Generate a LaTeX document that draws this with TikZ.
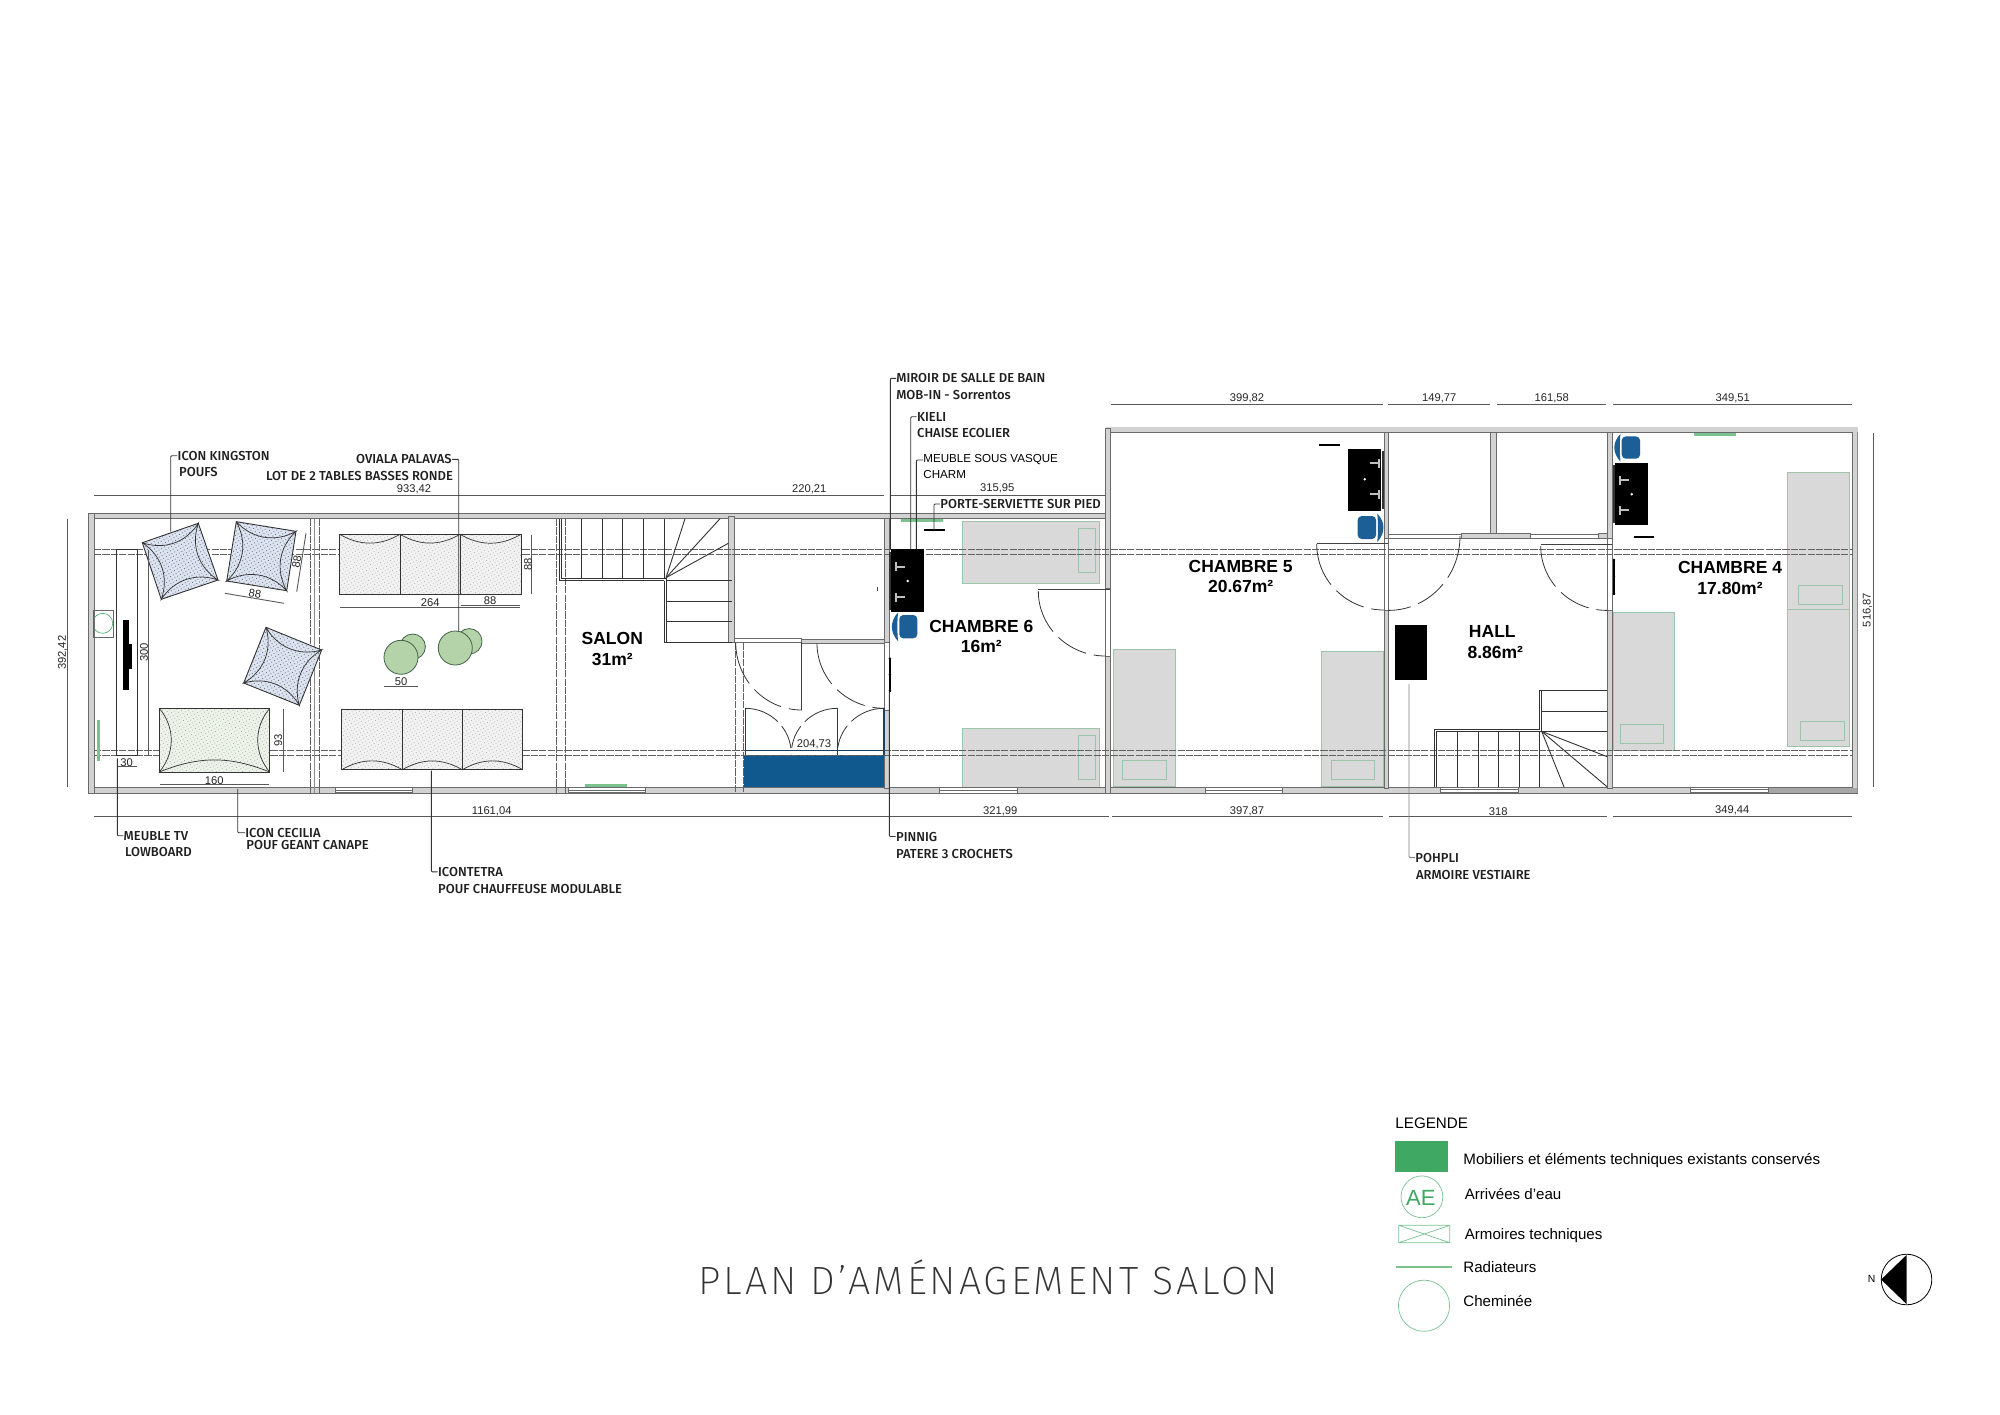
\documentclass[tikz,border=0pt]{standalone}
\usepackage{fontspec}
\usetikzlibrary{calc,patterns,patterns.meta}
\setmainfont{Liberation Sans}
\newfontfamily\din{Fira Sans Medium}
\newfontfamily\ttlfont{Fira Sans ExtraLight}[LetterSpace=7.5]
\definecolor{wallgrey}{HTML}{D2D2D2}
\definecolor{walledge}{HTML}{6A6A6A}
\definecolor{bedgrey}{HTML}{D9D9D9}
\definecolor{bedline}{HTML}{9CC4A6}
\definecolor{lgreen}{HTML}{3FA863}
\definecolor{radgreen}{HTML}{7CC28E}
\definecolor{navy}{HTML}{1F3F5F}
\definecolor{cupblue}{HTML}{10598F}
\definecolor{chairblue}{HTML}{1C5F97}
\definecolor{inkline}{HTML}{333333}
\definecolor{tablegreen}{HTML}{B4D3A8}
\definecolor{tableline}{HTML}{44604A}
\definecolor{poufblue}{HTML}{DDE4EF}
\definecolor{poufdot}{HTML}{5F7290}
\definecolor{cecilia}{HTML}{EDF3EA}
\definecolor{ceciliadot}{HTML}{8FA58A}
\definecolor{tetra}{HTML}{F2F2F2}
\definecolor{tetradot}{HTML}{A8A8A8}
\tikzset{
  wallfill/.style={fill=wallgrey,draw=walledge,line width=.3pt},
  thinwall/.style={fill=white,draw=walledge,line width=.35pt},
  ink/.style={draw=inkline,line width=.45pt},
  dimline/.style={draw=black!65,line width=.45pt},
  dashline/.style={draw=black!62,line width=.32pt,dash pattern=on 3.6pt off .6pt},
  dooredge/.style={draw=black!80,line width=.4pt,dash pattern=on 22pt off 4pt on 16pt off 4pt},
  bedbox/.style={fill=bedgrey,draw=bedline,line width=.45pt},
  pillow/.style={draw=bedline,line width=.45pt},
  lead/.style={draw=inkline,line width=.45pt,rounded corners=.5pt},
  dimtext/.style={font=\fontsize{5.6pt}{6pt}\selectfont,inner sep=0pt,text=black!85},
  din/.style={font=\din\fontsize{6.5pt}{7pt}\selectfont,inner sep=0pt,text=black!88},
  room/.style={font=\bfseries\fontsize{8.75pt}{10pt}\selectfont,inner sep=0pt},
  leg/.style={font=\fontsize{7.55pt}{8pt}\selectfont,inner sep=0pt,anchor=west},
  dotsblue/.style={pattern={Dots[distance=1.6pt,radius=.3pt,angle=30]},pattern color=poufdot},
  dotsgreen/.style={pattern={Dots[distance=1.6pt,radius=.25pt,angle=30]},pattern color=ceciliadot},
  dotsgrey/.style={pattern={Dots[distance=1.6pt,radius=.25pt,angle=30]},pattern color=tetradot},
}
\newcommand{\wallR}[4]{\path[wallfill] (#1,#2) rectangle (#3,#4);}
\newcommand{\winR}[4]{\path[thinwall] (#1,#2) rectangle (#3,#4);\draw[walledge,line width=.3pt] (#1,{(#2+#4)/2}) -- (#3,{(#2+#4)/2});}
\newcommand{\bedR}[4]{\path[bedbox] (#1,#2) rectangle (#3,#4);}
\newcommand{\pilR}[4]{\path[pillow] (#1,#2) rectangle (#3,#4);}
\newcommand{\qarc}[6]{\draw[dooredge] (#1,#2) .. controls ($(#1,#2)+.5523*(#3,#4)-.5523*(#5,#6)$) and ($(#3,#4)+.5523*(#1,#2)-.5523*(#5,#6)$) .. (#3,#4);}
\newcommand{\navyarc}[6]{\draw[draw=black!80,line width=.4pt,dash pattern=on 18pt off 3pt on 12pt off 3pt] (#1,#2) .. controls ($(#1,#2)+.5523*(#3,#4)-.5523*(#5,#6)$) and ($(#3,#4)+.5523*(#1,#2)-.5523*(#5,#6)$) .. (#3,#4);}
% pouf: four corners clockwise on screen
\newcommand{\pouf}[8]{%
  \path[fill=poufblue] (#1,#2) -- (#3,#4) -- (#5,#6) -- (#7,#8) -- cycle;
  \path[dotsblue] (#1,#2) -- (#3,#4) -- (#5,#6) -- (#7,#8) -- cycle;
  \draw[inkline,line width=.45pt] (#1,#2) -- (#3,#4) -- (#5,#6) -- (#7,#8) -- cycle;
  \draw[inkline,line width=.35pt] (#1,#2) to[bend right=38] (#3,#4) to[bend right=38] (#5,#6) to[bend right=38] (#7,#8) to[bend right=38] (#1,#2);
}
\newcommand{\chairL}[4]{% seat box, back on the left
  \fill[chairblue,rounded corners=2pt] (#1,#2) rectangle (#3,#4);
  \fill[chairblue] ($(#1,#2)+(-1.2,-2.5)$) .. controls ($(#1,#2)+(-9.5,6)$) and ($(#1,#4)+(-9.5,-6)$) .. ($(#1,#4)+(-1.2,3)$) .. controls ($(#1,#4)+(-2.2,-6)$) and ($(#1,#2)+(-2.2,6)$) .. cycle;
}
\newcommand{\chairRt}[4]{%
  \fill[chairblue,rounded corners=2pt] (#1,#2) rectangle (#3,#4);
  \fill[chairblue] ($(#3,#2)+(1.2,-2.5)$) .. controls ($(#3,#2)+(9.5,6)$) and ($(#3,#4)+(9.5,-6)$) .. ($(#3,#4)+(1.2,3)$) .. controls ($(#3,#4)+(2.2,-6)$) and ($(#3,#2)+(2.2,6)$) .. cycle;
}
\newcommand{\tapR}[2]{% tap with its body on the left, stem to the right
  \fill[black!25] ($(#1,#2)+(-5,-4.5)$) rectangle ($(#1,#2)+(-3,4.5)$);
  \fill[black!25] ($(#1,#2)+(-4,-1)$) rectangle ($(#1,#2)+(5,1)$);
}
\newcommand{\tapL}[2]{%
  \fill[black!25] ($(#1,#2)+(3,-4.5)$) rectangle ($(#1,#2)+(5,4.5)$);
  \fill[black!25] ($(#1,#2)+(-5,-1)$) rectangle ($(#1,#2)+(4,1)$);
}
\begin{document}
\begin{tikzpicture}[x=.5pt,y=-.5pt]
\useasboundingbox (0,0) rectangle (2000,1414);
\fill[white] (0,0) rectangle (2000,1414);

% ---------- beds (under the dashed lines)
\bedR{962.3}{521.3}{1099.7}{583}\pilR{1078.3}{528}{1095.7}{572.3}
\bedR{962.3}{728.3}{1099.7}{790}\pilR{1078.3}{735.3}{1095.7}{779.7}
\bedR{1113.3}{649.3}{1175.7}{786.7}\pilR{1122.3}{760.3}{1166}{779.3}
\bedR{1321.3}{651.3}{1383.3}{786.7}\pilR{1331.3}{760.3}{1374.7}{779.3}
\bedR{1787.3}{472.3}{1849.5}{609.5}\pilR{1798.3}{585.7}{1842.3}{604.3}
\bedR{1787.3}{609.5}{1849.5}{746.7}\pilR{1800.7}{721.7}{1844.3}{740.3}
\bedR{1613.3}{612.4}{1674.7}{750}\pilR{1620}{724}{1663.7}{743}

% ---------- cupboard blue
\fill[cupblue] (744,755) rectangle (885,787.3);

% ---------- walls
\wallR{88}{513}{1105.7}{518.7}
\wallR{88}{787.5}{1857.7}{793}
\wallR{88}{513}{94}{793}
\fill[wallgrey] (1105.7,427.3) rectangle (1857.7,432.7);
\draw[draw=walledge,line width=.35pt] (1110,432.7) -- (1852.7,432.7);
\draw[draw=walledge,line width=.3pt] (1105.7,428) -- (1110,428);
\path[fill=wallgrey] (1852.7,427.3) rectangle (1857.5,793);
\draw[draw=walledge,line width=.35pt] (1852.7,432.7) -- (1852.7,787.5);
\draw[draw=black!45,line width=.3pt] (1857.5,432) -- (1857.5,793);
\wallR{1105.7}{428}{1110}{588}
\wallR{1105.7}{656}{1110}{793}
\wallR{1384}{432.7}{1388.3}{538}
\wallR{1384}{610}{1388.3}{788}
\wallR{1490.7}{432.7}{1496.3}{533.7}
\wallR{1607.3}{432.7}{1612.3}{538}
\wallR{1607.3}{610}{1612.3}{788}
\wallR{884.3}{518.7}{889.3}{642}
\wallR{884.3}{710}{889.3}{788}
\wallR{728.3}{516.7}{734.3}{642.3}
\wallR{801.7}{639.5}{884.3}{643.3}
\wallR{1461}{533}{1530}{538}
\wallR{1598}{533.7}{1607.3}{538}
\path[thinwall] (1388.3,534) rectangle (1461,538);
\path[thinwall] (1530,534) rectangle (1598,538);
\path[thinwall] (734.3,638.3) rectangle (801.7,642.3);
\path[thinwall] (1105.7,588) rectangle (1110,656);
\path[thinwall] (1384,538) rectangle (1388.3,610);
\path[thinwall] (1607.3,538) rectangle (1612.3,610);
\path[thinwall] (884.3,642) rectangle (889.3,710);
\fill[black!35] (1768.3,788) rectangle (1857.3,792.6);
% windows
\winR{335}{787.7}{412.3}{792.7}
\winR{568.3}{787.7}{645.3}{792.7}
\winR{939.3}{787.3}{1017.3}{793}
\winR{1205}{787.3}{1282.3}{793}
\winR{1440.7}{787}{1518.3}{792.5}
\winR{1690.7}{787}{1768.3}{792.5}

% ---------- dashed overhead lines
\foreach \yy in {549.3,554.3,750,755.3}{
  \draw[dashline] (94,\yy) -- (1852.7,\yy);
}
% partitions in dashes
\foreach \xx in {310.7,319.3}{\draw[dashline] (\xx,519) -- (\xx,793);}
\draw[draw=black!45,line width=.4pt] (314.5,519) -- (314.5,793);
\foreach \xx in {556.7,565.5}{\draw[dashline] (\xx,519) -- (\xx,793);}
\foreach \xx in {735.7,743.7}{\draw[dashline] (\xx,642.3) -- (\xx,793);}

% ---------- stairs salon
\draw[ink] (559,518.7) -- (559,580.7) -- (664.3,580.7);
\draw[ink] (561.5,518.7) -- (561.5,578) -- (666.7,578);
\foreach \xx in {581.7,602.3,622.7,643.3,664.3}{\draw[ink] (\xx,518.7) -- (\xx,578);}
\draw[ink] (664.3,580.7) -- (664.3,642.3) -- (731.7,642.3);
\draw[ink] (666.7,578) -- (666.7,642.3);
\draw[ink] (666.7,580.7) -- (731.7,580.7);
\draw[ink] (666.7,601) -- (731.7,601);
\draw[ink] (666.7,621.7) -- (731.7,621.7);
\draw[ink] (666,577.7) -- (685,518.7);
\draw[ink] (666,577.7) -- (720,518.7);
\draw[ink] (666,577.7) -- (728.3,543.3);

% ---------- stairs hall
\draw[ink] (1434,787) -- (1434,729.6) -- (1539,729.6);
\draw[ink] (1436.7,787) -- (1436.7,731.4) -- (1541.7,731.4);
\foreach \xx in {1457.7,1478,1498.7,1519,1539.3}{\draw[ink] (\xx,731.4) -- (\xx,787);}
\draw[ink] (1539,729.6) -- (1539,690.5) -- (1607.3,690.5);
\draw[ink] (1541.7,690.5) -- (1541.7,731.4);
\draw[ink] (1541.7,711) -- (1607.3,711);
\draw[ink] (1541.7,731.4) -- (1607.3,731.4);
\draw[ink] (1541.7,731.4) -- (1607.3,756.7);
\draw[ink] (1541.7,731.4) -- (1607.3,787);
\draw[ink] (1541.7,731.4) -- (1564,787);

% ---------- doors
\draw[draw=black!75,line width=.5pt] (1038.3,589) -- (1110,589);
\qarc{1038.3}{591}{1105.7}{656}{1105.7}{591}
\draw[draw=black!75,line width=.5pt] (1316.7,543) -- (1388.3,543);
\qarc{1316.7}{544}{1384}{610}{1384}{544}
\qarc{1460}{536}{1388.3}{610.4}{1388.3}{536}
\draw[draw=black!75,line width=.5pt] (1540.7,544.5) -- (1612.3,544.5);
\qarc{1540.7}{546}{1607.3}{610.4}{1607.3}{546}
\draw[draw=black!75,line width=.45pt] (801.7,642.3) -- (801.7,710);
\qarc{735.7}{642.3}{801.7}{710}{801.7}{642.3}
\qarc{817}{643.3}{884.3}{708.3}{884.3}{643.3}
\fill[black!70] (876.5,587) rectangle (877.5,590.5);

% ---------- cupboard doors
\draw[navy,line width=.7pt] (745.3,708.3) -- (745.3,755);
\draw[navy,line width=.7pt] (837.3,708.3) -- (837.3,755);
\draw[navy,line width=.7pt] (884,708.3) -- (884,755);
\draw[navy,line width=.6pt] (744.5,750.7) -- (884.5,750.7);
\navyarc{745.3}{708.3}{791.3}{754}{745.3}{754}
\navyarc{837.3}{708.3}{791.3}{754}{837.3}{754}
\navyarc{884}{708.3}{837.3}{754}{884}{754}

% ---------- radiators
\draw[radgreen,line width=1.6pt] (901,520.3) -- (942.7,520.3);
\draw[radgreen,line width=1.6pt] (585,785.3) -- (626.7,785.3);
\draw[radgreen,line width=1.2pt] (1694,434.3) -- (1736,434.3);
\draw[radgreen,line width=1.6pt] (98.2,720) -- (98.2,760.7);

% ---------- salon furniture
\draw[ink] (116.7,549.7) rectangle (137.3,755.3);
\draw[draw=black!60,line width=.4pt] (93.3,610.3) rectangle (113.3,637.3);
\begin{scope}
\clip (94,605) rectangle (113,640);
\draw[draw=lgreen,line width=.3pt] (102.7,623.3) circle[radius=5pt];
\end{scope}
\fill[black] (122.7,620) rectangle (128.7,690);
\fill[black] (122.7,644) rectangle (132,668.7);

\pouf{142.3}{542.7}{198.3}{523.3}{218}{580}{161.3}{599.3}
\pouf{236.3}{521.7}{296}{531.3}{286.7}{590.7}{226.7}{581}
\pouf{266}{627.3}{321.7}{650}{299.3}{705.3}{243.7}{683}

% cecilia
\path[fill=cecilia] (159.3,708.3) rectangle (269.7,772);
\path[dotsgreen] (159.3,708.3) rectangle (269.7,772);
\draw[inkline,line width=.45pt] (159.3,708.3) rectangle (269.7,772);
\draw[inkline,line width=.35pt] (159.3,708.3) to[bend left=40] (159.3,772);
\draw[inkline,line width=.35pt] (269.7,708.3) to[bend right=40] (269.7,772);
\draw[inkline,line width=.35pt] (159.3,772) to[bend left=22] (269.7,772);

% icontetra top
\path[fill=tetra] (339.7,534.3) rectangle (521,594.7);
\path[dotsgrey] (339.7,534.3) rectangle (521,594.7);
\draw[inkline,line width=.45pt] (339.7,534.3) rectangle (521,594.7);
\draw[inkline,line width=.45pt] (400,534.3) -- (400,594.7) (460,534.3) -- (460,594.7);
\draw[inkline,line width=.35pt] (339.7,534.3) to[bend right=30] (400,534.3) to[bend right=30] (460,534.3) to[bend right=30] (521,534.3);
% icontetra bottom
\path[fill=tetra] (341.7,709.3) rectangle (522.7,769.7);
\path[dotsgrey] (341.7,709.3) rectangle (522.7,769.7);
\draw[inkline,line width=.45pt] (341.7,709.3) rectangle (522.7,769.7);
\draw[inkline,line width=.45pt] (402.3,709.3) -- (402.3,769.7) (462.3,709.3) -- (462.3,769.7);
\draw[inkline,line width=.35pt] (341.7,769.7) to[bend left=30] (402.3,769.7) to[bend left=30] (462.3,769.7) to[bend left=30] (522.7,769.7);

% tables
\draw[fill=tablegreen,draw=tableline,line width=.4pt] (412.7,646.7) circle[radius=6.35pt];
\draw[fill=tablegreen,draw=tableline,line width=.4pt] (401,657.3) circle[radius=8.5pt];
\draw[fill=tablegreen,draw=tableline,line width=.4pt] (469.3,641.3) circle[radius=6.35pt];
\draw[fill=tablegreen,draw=tableline,line width=.4pt] (455.3,648) circle[radius=8.5pt];

% ---------- bathroom furniture
\fill[black] (891,549.3) rectangle (924.3,611.7);
\fill[black!80] (888.7,551.5) rectangle (891,609.5);
\tapR{899.7}{566.7}\tapR{899.7}{597.3}
\fill[white] (907.7,581) circle[radius=.7pt];
\chairL{899.3}{615}{917.3}{638.3}
\draw[black,line width=1pt] (923.7,530) -- (944.7,530);

\fill[black] (1348,449) rectangle (1381,511);
\fill[black!80] (1381.7,451) rectangle (1383.8,509);
\tapL{1374.7}{463.3}\tapL{1374.7}{494.3}
\fill[white] (1364.7,479.3) circle[radius=.7pt];
\chairRt{1357.7}{516}{1376}{539}
\draw[black,line width=1pt] (1318.7,444.7) -- (1340,444.7);

\fill[black] (1615,462.8) rectangle (1648.3,525.3);
\fill[black!80] (1612.5,465) rectangle (1615,523);
\tapR{1623.7}{480.3}\tapR{1623.7}{510}
\fill[white] (1631.7,494.2) circle[radius=.7pt];
\chairL{1621.7}{436.4}{1640}{458.7}
\draw[black,line width=1pt] (1633.7,536.8) -- (1654.3,536.8);

% hall wardrobe
\fill[black] (1395.3,625) rectangle (1427.3,680.3);
% hooks
\foreach \xx/\ya/\yb in {889.9/657.7/691.7,1614/559/594.5}{
  \draw[black,line width=.6pt] (\xx,\ya) -- (\xx,\yb);
  \fill[black] (\xx,\ya+1) circle[radius=.7pt] (\xx,{(\ya+\yb)/2}) circle[radius=.7pt] (\xx,\yb-1) circle[radius=.7pt];
}

% ---------- dimension lines
\draw[dimline] (94.3,495) -- (733,495);
\draw[dimline] (733,495) -- (884,495);
\draw[dimline] (890,495) -- (1105.7,495);
\draw[dimline] (1110.7,404.3) -- (1383.3,404.3);
\draw[dimline] (1388.3,404.3) -- (1490,404.3);
\draw[dimline] (1497,404.3) -- (1606.3,404.3);
\draw[dimline] (1613,404.3) -- (1851.7,404.3);
\draw[dimline] (94.3,816.7) -- (1109,816.7);
\draw[dimline] (1111.7,816.7) -- (1383.3,816.7);
\draw[dimline] (1389.3,816.7) -- (1606.7,816.7);
\draw[dimline] (1613,816.7) -- (1851.7,816.7);
\draw[dimline] (67.3,519) -- (67.3,787.3);
\draw[dimline] (1873.3,433) -- (1873.3,786.7);
\draw[dimline] (148,549.7) -- (148,755.3);
\draw[dimline] (117.3,766.7) -- (136.7,766.7);
\draw[dimline] (283.3,709.3) -- (283.3,771.7);
\draw[dimline] (160,784.3) -- (269,784.3);
\draw[dimline] (225,593.3) -- (284,603.3);
\draw[dimline] (306,533.3) -- (296.7,591.7);
\draw[dimline] (340,607) -- (520,607);
\draw[dimline] (460.7,605) -- (520,605);
\draw[dimline] (531.7,535) -- (531.7,594);
\draw[dimline] (384.3,686) -- (417.7,686);

\node[dimtext] (d1) at (414,489) {933,42};
\node[dimtext] (d2) at (809.3,489) {220,21};
\node[dimtext] (d3) at (997.3,488.7) {315,95};
\node[dimtext] (d4) at (1247,398) {399,82};
\node[dimtext] (d5) at (1439.3,398) {149,77};
\node[dimtext] (d6) at (1551.7,398) {161,58};
\node[dimtext] (d7) at (1732.7,398) {349,51};
\node[dimtext] (d8) at (491.7,811) {1161,04};
\node[dimtext] (d9) at (1000.3,811) {321,99};
\node[dimtext] (d10) at (1247,811) {397,87};
\node[dimtext] (d11) at (1498.3,811.8) {318};
\node[dimtext] (d12) at (1732.3,810.4) {349,44};
\node[dimtext,rotate=90] (d13) at (62.7,652.7) {392,42};
\node[dimtext,rotate=90] (d14) at (1867.3,610) {516,87};
\node[dimtext] (d15) at (814,744.7) {204,73};
\node[dimtext,rotate=90] (d16) at (144,652.3) {300};
\node[dimtext] (d17) at (126.7,762.3) {30};
\node[dimtext,rotate=90] (d18) at (278.3,740) {93};
\node[dimtext] (d19) at (214.3,780.3) {160};
\node[dimtext,rotate=-9.5] (d20) at (255,593.7) {88};
\node[dimtext,rotate=80.5] (d21) at (296.7,561.7) {88};
\node[dimtext] (d22) at (430.3,603) {264};
\node[dimtext] (d23) at (490,601) {88};
\node[dimtext,rotate=90] (d24) at (528,564) {88};
\node[dimtext] (d25) at (401,681.7) {50};

% ---------- room names
\node[room] (r1) at (612.3,638.3) {SALON};
\node[room] (r1b) at (612.3,659.3) {31m²};
\node[room] (r2) at (981.3,626.3) {CHAMBRE 6};
\node[room] (r2b) at (981.3,646.3) {16m²};
\node[room] (r3) at (1240.7,566) {CHAMBRE 5};
\node[room] (r3b) at (1240.7,586.7) {20.67m²};
\node[room] (r4) at (1492.3,631.4) {HALL};
\node[room] (r4b) at (1495.3,652) {8.86m²};
\node[room] (r5) at (1730,567.6) {CHAMBRE 4};
\node[room] (r5b) at (1730,588) {17.80m²};

% ---------- call-outs
\node[din,anchor=west] (c1) at (177.3,455.7) {ICON KINGSTON};
\node[din,anchor=west] (c1b) at (178.7,472) {POUFS};
\draw[lead] (170.7,531.7) |- (c1.west);
\node[din,anchor=east] (c2) at (452,459.3) {OVIALA PALAVAS};
\node[din,anchor=east] (c2b) at (453.3,476) {LOT DE 2 TABLES BASSES RONDE};
\draw[lead] (458.7,631.7) |- (c2.east);
\node[din,anchor=west] (c3) at (123.3,835.7) {MEUBLE TV};
\node[din,anchor=west] (c3b) at (124.7,852.3) {LOWBOARD};
\draw[lead] (117.3,758.3) |- (c3.west);
\node[din,anchor=west] (c4) at (245,832.7) {ICON CECILIA};
\node[din,anchor=west] (c4b) at (246,845.2) {POUF GEANT CANAPE};
\draw[lead] (237.7,789) |- (c4.west);
\node[din,anchor=west] (c5) at (437.7,871.8) {ICONTETRA};
\node[din,anchor=west] (c5b) at (437.7,888.7) {POUF CHAUFFEUSE MODULABLE};
\draw[lead] (431.3,770.7) |- (c5.west);
\node[din,anchor=west] (c6) at (896,378.3) {MIROIR DE SALLE DE BAIN};
\node[din,anchor=west] (c6b) at (896,395.3) {MOB-IN - Sorrentos};
\draw[lead] (890.3,549.3) |- (c6.west);
\node[din,anchor=west] (c7) at (916.7,416.7) {KIELI};
\node[din,anchor=west] (c7b) at (916.7,433) {CHAISE ECOLIER};
\draw[lead] (910.7,549.3) |- (c7.west);
\node[leg,font=\fontsize{5.8pt}{7pt}\selectfont] (c8) at (923,460) {MEUBLE SOUS VASQUE};
\node[leg,font=\fontsize{5.8pt}{7pt}\selectfont] (c8b) at (923,474.5) {CHARM};
\draw[lead] (916.3,549.3) |- (c8.west);
\node[din,anchor=west] (c9) at (940,504) {PORTE-SERVIETTE SUR PIED};
\draw[lead] (934,530) |- (c9.west);
\node[din,anchor=west] (c10) at (895.7,836.5) {PINNIG};
\node[din,anchor=west] (c10b) at (895.7,854) {PATERE 3 CROCHETS};
\draw[lead] (889.3,692) |- (c10.west);
\node[din,anchor=west] (c11) at (1415,857.6) {POHPLI};
\node[din,anchor=west] (c11b) at (1415.7,874.8) {ARMOIRE VESTIAIRE};
\draw[lead,draw=black!50] (1409,684) |- (c11.west);

% ---------- title
\node[font=\ttlfont\fontsize{19.7pt}{22pt}\selectfont,inner sep=0pt,text=black!80] (title) at (988,1277.5) {PLAN D’AMÉNAGEMENT SALON};

% ---------- legend
\node[leg,font=\fontsize{7.6pt}{9pt}\selectfont] (lg0) at (1395,1123.5) {LEGENDE};
\fill[lgreen] (1395,1141) rectangle (1448.3,1171.7);
\node[leg] (lg1) at (1463,1160.5) {Mobiliers et éléments techniques existants conservés};
\draw[draw=lgreen!70,line width=.35pt] (1421.9,1196.8) circle[radius=10.45pt];
\node[inner sep=0pt,text=lgreen,font=\fontsize{11pt}{12pt}\selectfont] (ae) at (1420.8,1197.7) {AE};
\node[leg] (lg2) at (1464.4,1194) {Arrivées d'eau};
\draw[draw=lgreen!70,line width=.35pt] (1398.7,1225.3) rectangle (1449.8,1242.7) (1398.7,1225.3) -- (1449.8,1242.7) (1398.7,1242.7) -- (1449.8,1225.3);
\node[leg] (lg3) at (1464.4,1236) {Armoires techniques};
\draw[radgreen,line width=1.2pt] (1396,1266.7) -- (1452,1266.7);
\node[leg] (lg4) at (1463,1267) {Radiateurs};
\draw[draw=lgreen!70,line width=.35pt] (1424,1305.7) circle[radius=12.8pt];
\node[leg] (lg5) at (1463,1301) {Cheminée};

% ---------- north
\draw[draw=black,line width=.4pt] (1906.5,1279.5) circle[radius=12.65pt];
\fill[black] (1881.1,1279.5) -- (1906.5,1255) -- (1906.5,1304) -- cycle;
\node[inner sep=0pt,font=\fontsize{5.2pt}{6pt}\selectfont] (north) at (1871.5,1278.7) {N};
\end{tikzpicture}
\end{document}
